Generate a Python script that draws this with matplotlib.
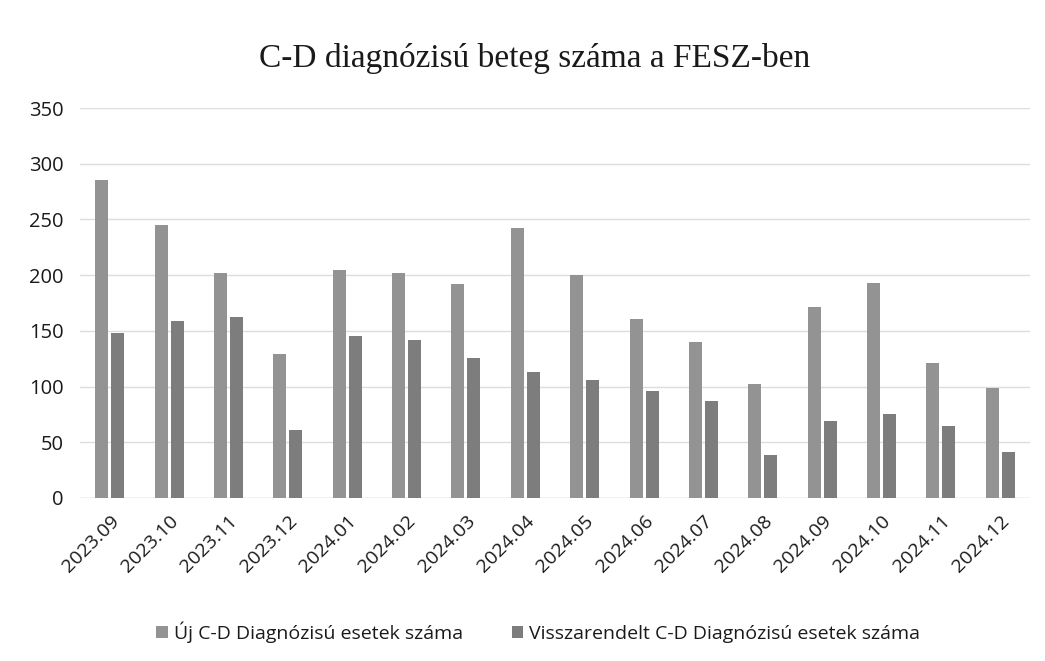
import matplotlib
matplotlib.use("Agg")
import matplotlib.pyplot as plt
import numpy as np

categories = ["2023.09", "2023.10", "2023.11", "2023.12", "2024.01", "2024.02",
              "2024.03", "2024.04", "2024.05", "2024.06", "2024.07", "2024.08",
              "2024.09", "2024.10", "2024.11", "2024.12"]
uj = [285, 245, 202, 129, 205, 202, 192, 242, 200, 161, 140, 102, 171, 193, 121, 99]
vissza = [148, 159, 162, 61, 145, 142, 126, 113, 106, 96, 87, 39, 69, 75, 65, 41]
series_names = ["Új C-D Diagnózisú esetek száma", "Visszarendelt C-D Diagnózisú esetek száma"]
title = "C-D diagnózisú beteg száma a FESZ-ben"
yticks = [0, 50, 100, 150, 200, 250, 300, 350]

plt.rcParams['font.family'] = ['Open Sans', 'DejaVu Sans']

fig = plt.figure(figsize=(10.45, 6.61), dpi=100)
ax = fig.add_axes([0.0766, 0.2466, 0.909, 0.590])

x = np.arange(len(categories))
w = 0.22
ax.bar(x - 0.135, uj, width=w, color="#939393", label=series_names[0], zorder=3)
ax.bar(x + 0.135, vissza, width=w, color="#7d7d7d", label=series_names[1], zorder=3)

ax.set_xlim(-0.5, len(categories) - 0.5)
ax.set_ylim(0, 350)
ax.set_yticks(yticks)
ax.set_yticklabels([str(v) for v in yticks], fontsize=14.5, color="#1a1a1a")
ax.set_xticks(x)
ax.set_xticklabels(categories, rotation=45, ha="right", rotation_mode="anchor",
                   fontsize=14, color="#1a1a1a")
ax.tick_params(axis="both", length=0)
ax.tick_params(axis="y", pad=12)
ax.tick_params(axis="x", pad=10)
ax.grid(axis="y", color="#dddddd", linewidth=1, zorder=0)
for s in ax.spines.values():
    s.set_visible(False)
ax.axhline(0, color="#d9d9d9", linewidth=1, zorder=2)

fig.text(0.512, 0.912, title, ha="center", va="center", fontsize=24,
         family=["Liberation Serif", "DejaVu Serif"], color="#1a1a1a")

leg = fig.legend(loc="center", bbox_to_anchor=(0.515, 0.044), ncol=2, frameon=False,
                 fontsize=14, handlelength=0.6, handleheight=0.6, handletextpad=0.3,
                 columnspacing=2.5)
for t in leg.get_texts():
    t.set_color("#1a1a1a")

fig.savefig("out.png", dpi=100, facecolor="white")
